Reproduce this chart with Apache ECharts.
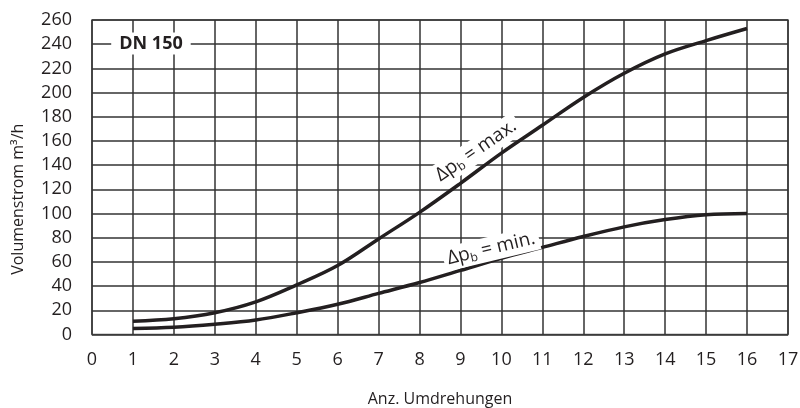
<!DOCTYPE html>
<html>
<head>
<meta charset="utf-8">
<script src="https://cdn.jsdelivr.net/npm/echarts@6/dist/echarts.min.js"></script>
<style>
  html, body { margin: 0; padding: 0; background: #fff; }
  #chart { width: 800px; height: 408px; }
</style>
</head>
<body>
<div id="chart"></div>
<script>
// Umdrehungen (Anz.) of the valve spindle
const turns = [1, 2, 3, 4, 5, 6, 7, 8, 9, 10, 11, 12, 13, 14, 15, 16];
// Volumenstrom in m³/h for Δp_b = max.
const flowMax = [11, 13, 18, 27, 41, 57, 79, 101, 125, 150, 173, 196, 216, 232, 243, 253];
// Volumenstrom in m³/h for Δp_b = min.
const flowMin = [5, 6, 8.5, 12, 18, 25, 34, 43, 53, 63, 72, 81, 89, 95, 99, 100];

const xTicks = { min: 0, max: 17, step: 1 };
const yTicks = { min: 0, max: 260, step: 20 };

const FONT = '"Open Sans", "Noto Sans", sans-serif';
const INK = '#231f20';

const chart = echarts.init(document.getElementById('chart'), null, { renderer: 'canvas' });

function pairs(xs, ys) { return xs.map((x, i) => [x, ys[i]]); }

chart.setOption({
  animation: false,
  backgroundColor: '#fff',
  grid: {
    left: 92, right: 12, top: 20, bottom: 73.5,
    containLabel: false, outerBoundsMode: 'none',
    show: true, borderColor: '#555', borderWidth: 1.5
  },
  xAxis: {
    type: 'value', min: xTicks.min, max: xTicks.max, interval: xTicks.step,
    name: 'Anz. Umdrehungen', nameLocation: 'middle', nameGap: 57,
    nameTextStyle: { fontFamily: FONT, fontSize: 16, color: INK },
    axisLine: { show: false },
    axisTick: { show: false },
    axisLabel: { fontFamily: FONT, fontSize: 18, color: INK, margin: 16 },
    splitLine: { show: true, lineStyle: { color: '#333', width: 1.5 } }
  },
  yAxis: {
    type: 'value', min: yTicks.min, max: yTicks.max, interval: yTicks.step,
    name: 'Volumenstrom m³/h', nameLocation: 'middle', nameGap: 66,
    nameTextStyle: { fontFamily: FONT, fontSize: 16, color: INK, padding: [0, 44, 0, 0] },
    nameRotate: 90,
    axisLine: { show: false },
    axisTick: { show: false },
    axisLabel: { fontFamily: FONT, fontSize: 18, color: INK, margin: 20 },
    splitLine: { show: true, lineStyle: { color: '#333', width: 1.5 } }
  },
  series: [
    {
      type: 'line', data: pairs(turns, flowMax), smooth: 0.35, showSymbol: false,
      lineStyle: { color: INK, width: 3.5 }, z: 5
    },
    {
      type: 'line', data: pairs(turns, flowMin), smooth: 0.35, showSymbol: false,
      lineStyle: { color: INK, width: 3.5 }, z: 5
    }
  ]
});

// Annotations anchored in data coordinates
function at(pt) { return chart.convertToPixel({ gridIndex: 0 }, pt); }

const richLabel = {
  t: { fontFamily: FONT, fontSize: 19, fill: INK },
  s: { fontFamily: FONT, fontSize: 12, fill: INK, padding: [10, 0, 0, 0] }
};

function curveLabel(pt, word, deg) {
  const p = at(pt);
  return {
    type: 'text', x: p[0], y: p[1], rotation: deg * Math.PI / 180, z: 10,
    style: {
      text: '{t|Δp}{s|b}{t| = ' + word + '}',
      rich: richLabel,
      align: 'center', verticalAlign: 'middle',
      backgroundColor: '#fff', padding: [1, 4, 1, 4]
    }
  };
}

const dn = at([1.44, 240.5]);
chart.setOption({
  graphic: [
    {
      type: 'text', x: dn[0], y: dn[1], z: 10,
      style: {
        text: 'DN 150', fontFamily: FONT, fontSize: 18, fontWeight: 'bold', fill: INK,
        align: 'center', verticalAlign: 'middle', backgroundColor: '#fff', padding: [2, 8, 2, 8]
      }
    },
    curveLabel([9.38, 152], 'max.', 34.5),
    curveLabel([9.75, 71], 'min.', 13.5)
  ]
});
</script>
</body>
</html>
